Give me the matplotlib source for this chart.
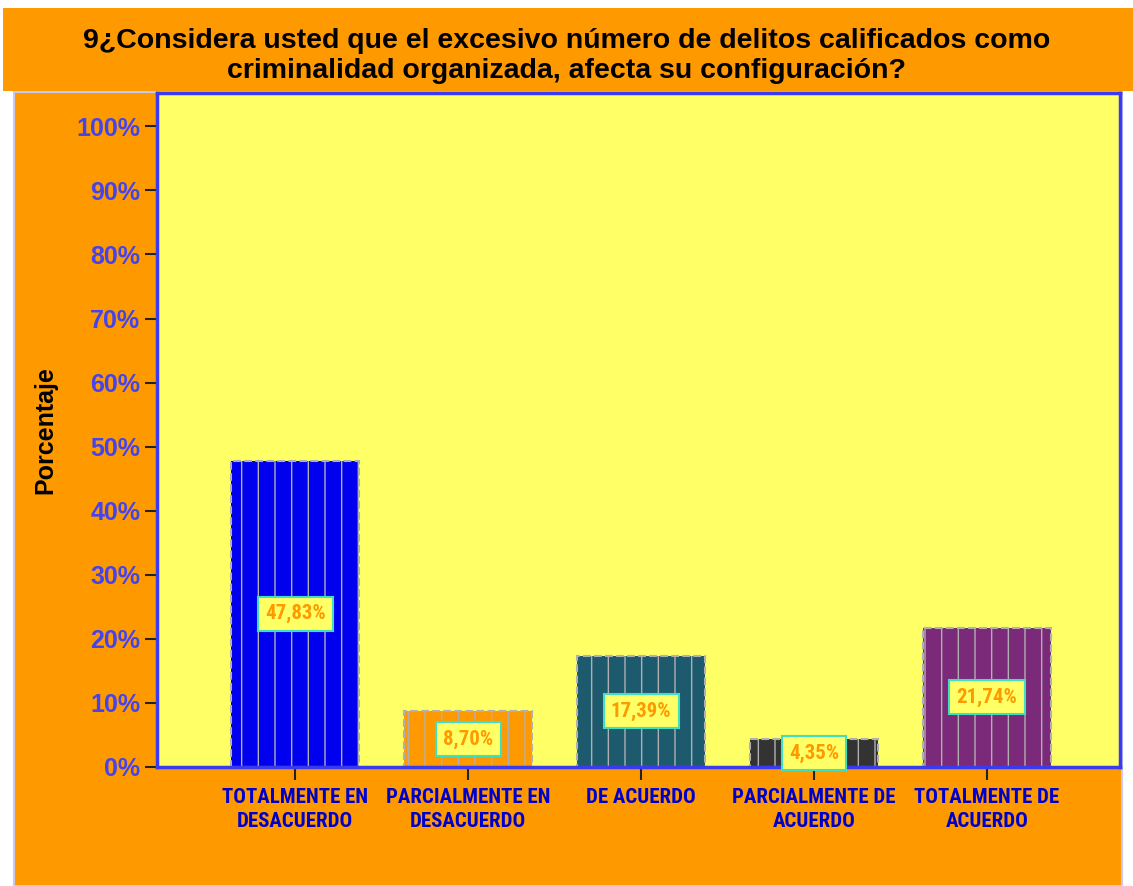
import matplotlib

matplotlib.use("Agg")

import matplotlib.pyplot as plt
from matplotlib.patches import Rectangle

TITLE = "9¿Considera usted que el excesivo número de delitos calificados como\ncriminalidad organizada, afecta su configuración?"
CATEGORIES = [
    "TOTALMENTE EN\nDESACUERDO",
    "PARCIALMENTE EN\nDESACUERDO",
    "DE ACUERDO",
    "PARCIALMENTE DE\nACUERDO",
    "TOTALMENTE DE\nACUERDO",
]
PERCENTAGES = [47.83, 8.70, 17.39, 4.35, 21.74]
VALUE_LABELS = ["47,83%", "8,70%", "17,39%", "4,35%", "21,74%"]
BAR_COLORS = ["#0000EE", "#FF9900", "#1E5A6E", "#333333", "#7A2A78"]
Y_TICKS = [0, 10, 20, 30, 40, 50, 60, 70, 80, 90, 100]

ORANGE = "#FF9900"
YELLOW = "#FFFF66"
AXIS_BLUE = "#3A3AF0"
NARROW = ["Roboto Condensed", "DejaVu Sans"]

plt.rcParams["hatch.linewidth"] = 1.0

fig = plt.figure(figsize=(11.33, 8.86), dpi=100)
fig.patch.set_facecolor("white")

# orange panel behind the axes and title band
fig.patches.append(Rectangle((14 / 1133, 0), 1108 / 1133, 794 / 886, transform=fig.transFigure,
                             facecolor=ORANGE, edgecolor="#C8C8F0", linewidth=1.5, zorder=-10))
fig.patches.append(Rectangle((3 / 1133, 795 / 886), 1130 / 1133, 83 / 886, transform=fig.transFigure,
                             facecolor=ORANGE, edgecolor="none", zorder=-10))
fig.text(0.5, 830 / 886, TITLE, ha="center", va="center", fontsize=20.5, fontweight="bold",
         color="black", family="Liberation Sans", linespacing=1.2)

ax = fig.add_axes([157 / 1133, 119 / 886, 963 / 1133, 674 / 886])
ax.set_facecolor(YELLOW)

x = list(range(len(CATEGORIES)))
bars = ax.bar(x, PERCENTAGES, width=0.74, color=BAR_COLORS, edgecolor="#B0B0B0",
              linewidth=1.5, linestyle="--", hatch="|", zorder=2)

for bar, label in zip(bars, VALUE_LABELS):
    ax.text(bar.get_x() + bar.get_width() / 2, bar.get_height() / 2, label,
            ha="center", va="center", fontsize=15, fontweight="bold", color=ORANGE,
            family=NARROW, zorder=4,
            bbox=dict(boxstyle="square,pad=0.35", facecolor=YELLOW, edgecolor="#3FE0C0", linewidth=1.5))

ax.set_xlim(-0.80, 4.77)
ax.set_ylim(0, 105.2)
ax.set_yticks(Y_TICKS)
ax.set_yticklabels([f"{t}%" for t in Y_TICKS], fontsize=18, fontweight="bold", color="#4444EE",
                   family="Liberation Sans")
ax.set_xticks(x)
ax.set_xticklabels(CATEGORIES, fontsize=15, fontweight="bold", color="#0000CC", family=NARROW,
                   linespacing=1.35)
ax.tick_params(axis="both", length=9, width=1.5, color="#222222")
ax.tick_params(axis="y", pad=3)
ax.tick_params(axis="x", pad=6)

for spine in ax.spines.values():
    spine.set_color(AXIS_BLUE)
    spine.set_linewidth(2.5)

ax.set_ylabel("Porcentaje", fontsize=18, fontweight="bold", color="black", family="Liberation Sans",
              labelpad=14)

fig.savefig("out.png", dpi=100)
